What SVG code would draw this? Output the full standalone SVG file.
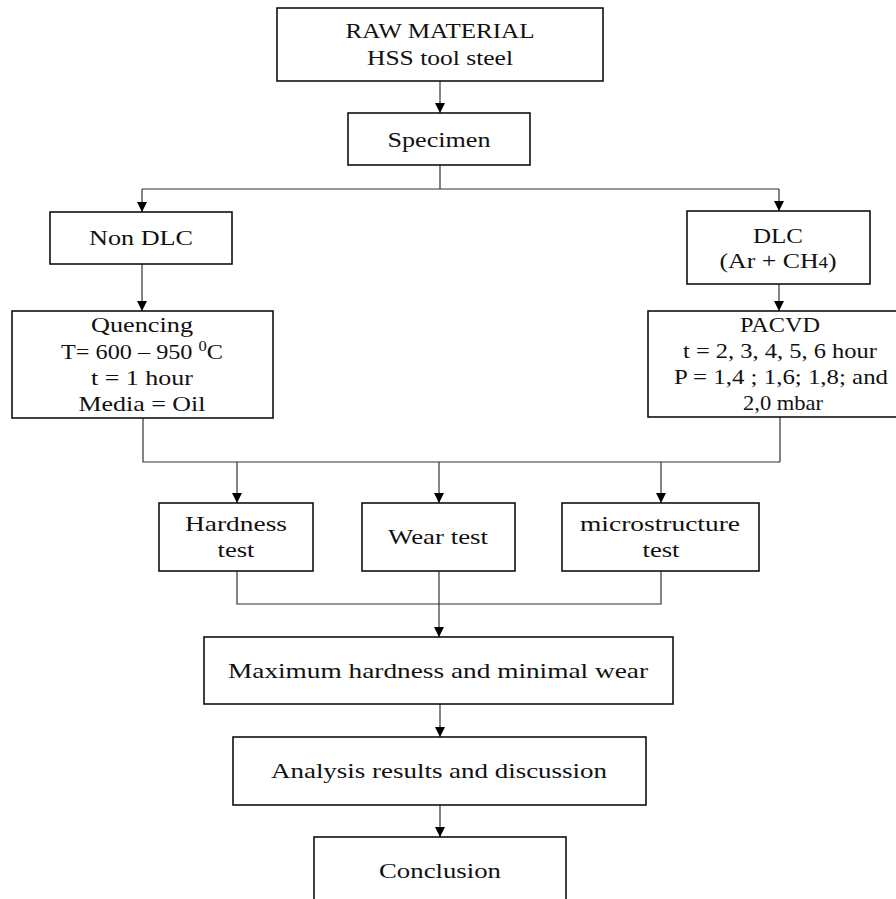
<svg xmlns="http://www.w3.org/2000/svg" width="896" height="899" viewBox="0 0 896 899">
<defs>
<marker id="arr" viewBox="0 0 10 10" refX="10" refY="5" markerWidth="10" markerHeight="10" markerUnits="userSpaceOnUse" orient="auto">
<path d="M0,0 L10,5 L0,10 Z" fill="#000"/>
</marker>
<style>
.box{fill:#fff;stroke:#111;stroke-width:1.6}
.t{font-family:"Liberation Serif","Times New Roman",serif;font-size:22px;fill:#111;text-anchor:middle}
.c{fill:none;stroke:#333;stroke-width:1.2}
.a{marker-end:url(#arr)}
</style>
</defs>
<rect width="896" height="899" fill="#fff"/>
<g id="connectors">
<line class="c a" x1="440" y1="81" x2="440" y2="113"/>
<polyline class="c" points="440,165 440,189"/>
<line class="c" x1="142" y1="189" x2="779" y2="189"/>
<line class="c a" x1="142" y1="189" x2="142" y2="212"/>
<line class="c a" x1="779" y1="189" x2="779" y2="211"/>
<line class="c a" x1="142" y1="264" x2="142" y2="311"/>
<line class="c a" x1="779" y1="284" x2="779" y2="311"/>
<polyline class="c" points="143,418 143,462 780,462"/>
<line class="c" x1="780" y1="417" x2="780" y2="462"/>
<line class="c a" x1="237" y1="462" x2="237" y2="503"/>
<line class="c a" x1="439" y1="462" x2="439" y2="503"/>
<line class="c a" x1="661" y1="462" x2="661" y2="503"/>
<polyline class="c" points="237,571 237,604 661,604 661,571"/>
<line class="c" x1="439" y1="571" x2="439" y2="604"/>
<line class="c a" x1="439" y1="604" x2="439" y2="637"/>
<line class="c a" x1="440" y1="704" x2="440" y2="737"/>
<line class="c a" x1="440" y1="805" x2="440" y2="837"/>
</g>
<g id="raw">
<rect class="box" x="277" y="8" width="326" height="73"/>
<text class="t" x="440" y="38" textLength="189" lengthAdjust="spacingAndGlyphs">RAW MATERIAL</text>
<text class="t" x="440" y="65" textLength="146" lengthAdjust="spacingAndGlyphs">HSS tool steel</text>
</g>
<g id="specimen">
<rect class="box" x="348" y="113" width="182" height="52"/>
<text class="t" x="439" y="147" textLength="103" lengthAdjust="spacingAndGlyphs">Specimen</text>
</g>
<g id="nondlc">
<rect class="box" x="50" y="212" width="182" height="52"/>
<text class="t" x="141" y="245" textLength="104" lengthAdjust="spacingAndGlyphs">Non DLC</text>
</g>
<g id="dlc">
<rect class="box" x="687" y="211" width="183" height="73"/>
<text class="t" x="778" y="243" textLength="50" lengthAdjust="spacingAndGlyphs">DLC</text>
<text class="t" x="778" y="268" textLength="117" lengthAdjust="spacingAndGlyphs">(Ar + CH<tspan font-size="16">4</tspan>)</text>
</g>
<g id="quencing">
<rect class="box" x="12" y="311" width="261" height="107"/>
<text class="t" x="142" y="332" textLength="102" lengthAdjust="spacingAndGlyphs">Quencing</text>
<text class="t" x="142" y="359" textLength="162" lengthAdjust="spacingAndGlyphs">T= 600 – 950 <tspan font-size="15" dy="-8">0</tspan><tspan dy="8">C</tspan></text>
<text class="t" x="142" y="385" textLength="102" lengthAdjust="spacingAndGlyphs">t = 1 hour</text>
<text class="t" x="142" y="411" textLength="127" lengthAdjust="spacingAndGlyphs">Media = Oil</text>
</g>
<g id="pacvd">
<rect class="box" x="648" y="311" width="264" height="106"/>
<text class="t" x="780" y="332" textLength="80" lengthAdjust="spacingAndGlyphs">PACVD</text>
<text class="t" x="780" y="358" textLength="194" lengthAdjust="spacingAndGlyphs">t = 2, 3, 4, 5, 6 hour</text>
<text class="t" x="781" y="384" textLength="214" lengthAdjust="spacingAndGlyphs">P = 1,4 ; 1,6; 1,8; and</text>
<text class="t" x="783" y="410" textLength="80" lengthAdjust="spacingAndGlyphs">2,0 mbar</text>
</g>
<g id="hardness">
<rect class="box" x="159" y="503" width="154" height="68"/>
<text class="t" x="236" y="531" textLength="102" lengthAdjust="spacingAndGlyphs">Hardness</text>
<text class="t" x="236" y="557" textLength="37" lengthAdjust="spacingAndGlyphs">test</text>
</g>
<g id="wear">
<rect class="box" x="362" y="503" width="153" height="68"/>
<text class="t" x="438" y="544" textLength="100" lengthAdjust="spacingAndGlyphs">Wear test</text>
</g>
<g id="microstructure">
<rect class="box" x="562" y="503" width="197" height="68"/>
<text class="t" x="660" y="531" textLength="160" lengthAdjust="spacingAndGlyphs">microstructure</text>
<text class="t" x="661" y="557" textLength="37" lengthAdjust="spacingAndGlyphs">test</text>
</g>
<g id="maximum">
<rect class="box" x="204" y="637" width="469" height="67"/>
<text class="t" x="438" y="678" textLength="420" lengthAdjust="spacingAndGlyphs">Maximum hardness and minimal wear</text>
</g>
<g id="analysis">
<rect class="box" x="233" y="737" width="413" height="68"/>
<text class="t" x="439" y="778" textLength="336" lengthAdjust="spacingAndGlyphs">Analysis results and discussion</text>
</g>
<g id="conclusion">
<rect class="box" x="314" y="837" width="252" height="80"/>
<text class="t" x="440" y="878" textLength="122" lengthAdjust="spacingAndGlyphs">Conclusion</text>
</g>
</svg>
